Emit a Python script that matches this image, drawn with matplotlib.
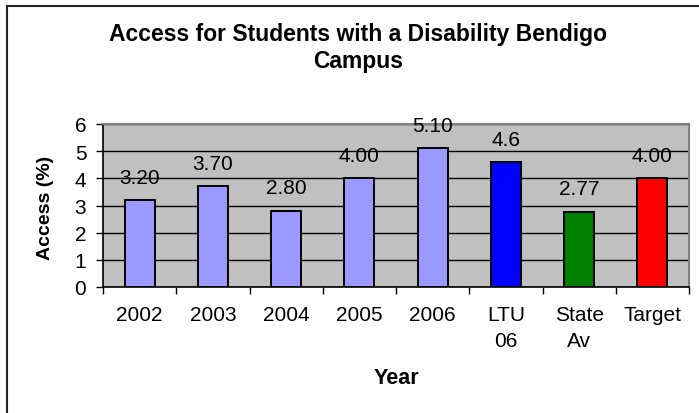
import matplotlib.pyplot as plt
import matplotlib.lines as mlines
import numpy as np

plt.rcParams['font.family'] = ['Liberation Sans', 'DejaVu Sans']

categories = ["2002", "2003", "2004", "2005", "2006", "LTU\n06", "State\nAv", "Target"]
access = [3.20, 3.70, 2.80, 4.00, 5.10, 4.6, 2.77, 4.00]
value_labels = ["3.20", "3.70", "2.80", "4.00", "5.10", "4.6", "2.77", "4.00"]
bar_colors = ["#9999FF"] * 5 + ["#0000FF", "#008000", "#FF0000"]

W, H = 699, 414
fig = plt.figure(figsize=(W / 100, H / 100), dpi=100)
ax = fig.add_axes([103 / W, 1 - 288 / H, (689 - 103) / W, (288 - 125) / H])
ax.set_facecolor("#C0C0C0")

x = np.arange(len(categories))
ax.bar(x, access, width=0.41, color=bar_colors, edgecolor="black", linewidth=1.4, zorder=3)

for xi, v, lab in zip(x, access, value_labels):
    ax.annotate(lab, (xi, v), xytext=(0, 23), textcoords="offset pixels",
                ha="center", va="center", fontsize=15, zorder=4)

ax.set_xlim(-0.5, len(categories) - 0.5)
ax.set_ylim(0, 6)
ax.set_yticks(np.arange(0, 7, 1))
ax.yaxis.grid(True, color="black", linewidth=1.0, zorder=1)
ax.set_axisbelow(True)

ax.set_xticks(x)
ax.set_xticklabels(categories, fontsize=15, linespacing=1.45)
ax.set_xticks(np.arange(-0.5, len(categories), 1), minor=True)
ax.tick_params(axis="x", which="major", length=0, pad=13)
ax.tick_params(axis="x", which="minor", length=5, width=1, direction="out")
ax.tick_params(axis="y", length=5, width=1, direction="out", pad=7, labelsize=15)

for s in ["top", "right"]:
    ax.spines[s].set_color("#808080")
    ax.spines[s].set_linewidth(1.5)
for s in ["left", "bottom"]:
    ax.spines[s].set_color("black")
    ax.spines[s].set_linewidth(1.2)

ax.set_ylabel("Access (%)", fontsize=14, fontweight="bold", va="center")
ax.yaxis.set_label_coords(-0.098, 0.49)
ax.set_xlabel("Year", fontsize=15.5, fontweight="bold")
ax.xaxis.set_label_coords(0.5, -0.558)
ax.xaxis.label.set_va("center")

fig.text(358 / W, 1 - 48 / H, "Access for Students with a Disability Bendigo\nCampus",
         ha="center", va="center", fontsize=16.5, fontweight="bold", linespacing=1.25)

# chart frame (left and top edges only visible)
fig.add_artist(mlines.Line2D([7 / W, 7 / W], [0, 1 - 7 / H], color="#222222", linewidth=1.5))
fig.add_artist(mlines.Line2D([7 / W, 1], [1 - 7 / H, 1 - 7 / H], color="#222222", linewidth=1.5))

fig.savefig("out.png", dpi=100)
